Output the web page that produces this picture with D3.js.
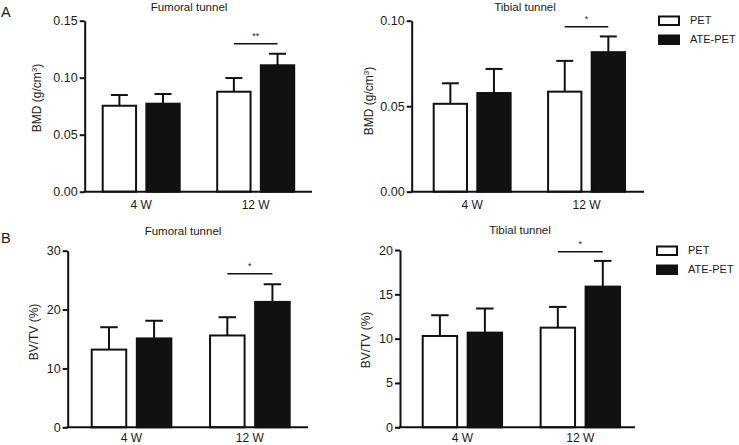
<!DOCTYPE html>
<html>
<head>
<meta charset="utf-8">
<script src="https://cdn.jsdelivr.net/npm/d3@7"></script>
<style>
  html, body { margin: 0; padding: 0; background: #fff; }
  svg { display: block; font-family: "Liberation Sans", Arial, Helvetica, sans-serif; }
</style>
</head>
<body>
<svg id="chart" width="739" height="445"></svg>
<script>
// ---------- DATA ----------
const categories = ["4 W", "12 W"];
const seriesNames = ["PET", "ATE-PET"];

const bmdFemoralPET = [0.0754, 0.0877];
const bmdFemoralPETErr = [0.0094, 0.0120];
const bmdFemoralATE = [0.0772, 0.1109];
const bmdFemoralATEErr = [0.0085, 0.0101];

const bmdTibialPET = [0.0514, 0.0585];
const bmdTibialPETErr = [0.0120, 0.0180];
const bmdTibialATE = [0.0577, 0.0816];
const bmdTibialATEErr = [0.0141, 0.0092];

const bvFemoralPET = [13.2, 15.6];
const bvFemoralPETErr = [3.8, 3.1];
const bvFemoralATE = [15.1, 21.3];
const bvFemoralATEErr = [3.0, 3.0];

const bvTibialPET = [10.3, 11.24];
const bvTibialPETErr = [2.34, 2.34];
const bvTibialATE = [10.68, 15.87];
const bvTibialATEErr = [2.72, 2.90];

const bmdFemoralTicks = [0, 0.05, 0.10, 0.15];
const bmdTibialTicks = [0, 0.05, 0.10];
const bvFemoralTicks = [0, 10, 20, 30];
const bvTibialTicks = [0, 5, 10, 15, 20];

// significance: [category, y-level, label]
const sigBmdFemoral = ["12 W", 0.1298, "**"];
const sigBmdTibial = ["12 W", 0.0965, "*"];
const sigBvFemoral = ["12 W", 26.1, "*"];
const sigBvTibial = ["12 W", 19.8, "*"];

// ---------- LAYOUT ----------
const svg = d3.select("#chart");
const INK = "#111";
const TXT = "#1a1a1a";

const panels = [
  { title: "Fumoral tunnel", titleX: 189, titleY: 11,
    axL: 84.7, axR: 312, yTop: 20.7, yBot: 191.7, barL: 101.7, barR: 295.2,
    domain: [0, 0.15], ticks: bmdFemoralTicks, fmt: d3.format(".2f"),
    pet: bmdFemoralPET, petErr: bmdFemoralPETErr, ate: bmdFemoralATE, ateErr: bmdFemoralATEErr,
    sig: sigBmdFemoral, ylab: "bmd", ylabX: 41, ylabY: 98, xlabY: 208.5 },
  { title: "Tibial tunnel", titleX: 525, titleY: 11,
    axL: 411.7, axR: 644, yTop: 20.7, yBot: 191.7, barL: 432.7, barR: 626,
    domain: [0, 0.10], ticks: bmdTibialTicks, fmt: d3.format(".2f"),
    pet: bmdTibialPET, petErr: bmdTibialPETErr, ate: bmdTibialATE, ateErr: bmdTibialATEErr,
    sig: sigBmdTibial, ylab: "bmd", ylabX: 373, ylabY: 101, xlabY: 208.5 },
  { title: "Fumoral tunnel", titleX: 183, titleY: 235,
    axL: 67.7, axR: 308, yTop: 250.7, yBot: 427.3, barL: 90.7, barR: 290.7,
    domain: [0, 30], ticks: bvFemoralTicks, fmt: d3.format("d"),
    pet: bvFemoralPET, petErr: bvFemoralPETErr, ate: bvFemoralATE, ateErr: bvFemoralATEErr,
    sig: sigBvFemoral, ylab: "bv", ylabX: 37.5, ylabY: 332, xlabY: 441.5 },
  { title: "Tibial tunnel", titleX: 520, titleY: 234,
    axL: 400, axR: 635, yTop: 250, yBot: 427.3, barL: 421.7, barR: 621,
    domain: [0, 20], ticks: bvTibialTicks, fmt: d3.format("d"),
    pet: bvTibialPET, petErr: bvTibialPETErr, ate: bvTibialATE, ateErr: bvTibialATEErr,
    sig: sigBvTibial, ylab: "bv", ylabX: 370, ylabY: 340, xlabY: 441.5 }
];

function drawPanel(p) {
  const g = svg.append("g");
  const y = d3.scaleLinear().domain(p.domain).range([p.yBot, p.yTop]);
  const x0 = d3.scaleBand().domain(categories).range([p.barL, p.barR]).paddingInner(0.31).paddingOuter(0);
  const x1 = d3.scaleBand().domain(seriesNames).range([0, x0.bandwidth()]).paddingInner(0.19).paddingOuter(0);

  const rows = [];
  categories.forEach((c, i) => {
    rows.push({ cat: c, s: "PET", v: p.pet[i], e: p.petErr[i] });
    rows.push({ cat: c, s: "ATE-PET", v: p.ate[i], e: p.ateErr[i] });
  });

  // error bars (upper only)
  const eg = g.append("g");
  rows.forEach(r => {
    const cx = x0(r.cat) + x1(r.s) + x1.bandwidth() / 2;
    const cw = x1.bandwidth() * 0.24;
    eg.append("line").attr("x1", cx).attr("x2", cx)
      .attr("y1", y(r.v)).attr("y2", y(r.v + r.e))
      .attr("stroke", INK).attr("stroke-width", 2);
    eg.append("line").attr("x1", cx - cw).attr("x2", cx + cw)
      .attr("y1", y(r.v + r.e)).attr("y2", y(r.v + r.e))
      .attr("stroke", INK).attr("stroke-width", 2);
  });

  // bars
  g.append("g").selectAll("rect").data(rows).join("rect")
    .attr("x", d => x0(d.cat) + x1(d.s) + 1)
    .attr("y", d => y(d.v))
    .attr("width", x1.bandwidth() - 2)
    .attr("height", d => y(p.domain[0]) - y(d.v))
    .attr("fill", d => d.s === "PET" ? "#fff" : INK)
    .attr("stroke", INK).attr("stroke-width", 2);

  // y axis
  const ya = d3.axisLeft(y).tickValues(p.ticks).tickFormat(p.fmt).tickSize(5).tickSizeOuter(0).tickPadding(2);
  const yg = g.append("g").attr("transform", `translate(${p.axL},0)`).call(ya);
  yg.select(".domain").attr("stroke", INK).attr("stroke-width", 2);
  yg.selectAll(".tick line").attr("stroke", INK).attr("stroke-width", 2);
  yg.selectAll(".tick text").attr("fill", TXT).style("font-size", "12.5px")
    .style("font-family", "'Liberation Sans', Arial, sans-serif");

  // x axis line
  g.append("line").attr("x1", p.axL - 1).attr("x2", p.axR)
    .attr("y1", y(0)).attr("y2", y(0)).attr("stroke", INK).attr("stroke-width", 2);
  // x labels
  g.selectAll(".xl").data(categories).join("text")
    .attr("x", d => x0(d) + x0.bandwidth() / 2).attr("y", p.xlabY)
    .attr("text-anchor", "middle").attr("fill", TXT).style("font-size", "12px").text(d => d);

  // title
  g.append("text").attr("x", p.titleX).attr("y", p.titleY).attr("text-anchor", "middle")
    .attr("fill", TXT).style("font-size", "11.5px").text(p.title);

  // y label
  const yl = g.append("text").attr("transform", `translate(${p.ylabX},${p.ylabY}) rotate(-90)`)
    .attr("text-anchor", "middle").attr("fill", TXT).style("font-size", "12px");
  if (p.ylab === "bmd") {
    yl.append("tspan").text("BMD (g/cm");
    yl.append("tspan").attr("dy", -4).style("font-size", "8px").text("3");
    yl.append("tspan").attr("dy", 4).text(")");
  } else {
    yl.text("BV/TV (%)");
  }

  // significance
  const [sc, sy, st] = p.sig;
  const xa = x0(sc) + x1("PET") + x1.bandwidth() / 2;
  const xb = x0(sc) + x1("ATE-PET") + x1.bandwidth() / 2;
  g.append("line").attr("x1", xa).attr("x2", xb).attr("y1", y(sy)).attr("y2", y(sy))
    .attr("stroke", INK).attr("stroke-width", 1.5);
  g.append("text").attr("x", (xa + xb) / 2).attr("y", y(sy) - 5).attr("text-anchor", "middle")
    .attr("fill", TXT).style("font-size", "9px").text(st);
}

panels.forEach(drawPanel);

// legends
function drawLegend(x, y0) {
  const lg = svg.append("g");
  seriesNames.forEach((s, i) => {
    const yy = y0 + i * 19;
    lg.append("rect").attr("x", x).attr("y", yy).attr("width", 20).attr("height", 8.5)
      .attr("fill", s === "PET" ? "#fff" : INK).attr("stroke", INK).attr("stroke-width", 2);
    lg.append("text").attr("x", x + 31).attr("y", yy + 7.5).attr("fill", TXT)
      .style("font-size", "11px").text(s);
  });
}
drawLegend(659, 16.5);
drawLegend(657, 246.5);

// panel letters
svg.append("text").attr("x", 1).attr("y", 17).attr("fill", TXT).style("font-size", "14.5px").text("A");
svg.append("text").attr("x", 1).attr("y", 243).attr("fill", TXT).style("font-size", "14.5px").text("B");
</script>
</body>
</html>
